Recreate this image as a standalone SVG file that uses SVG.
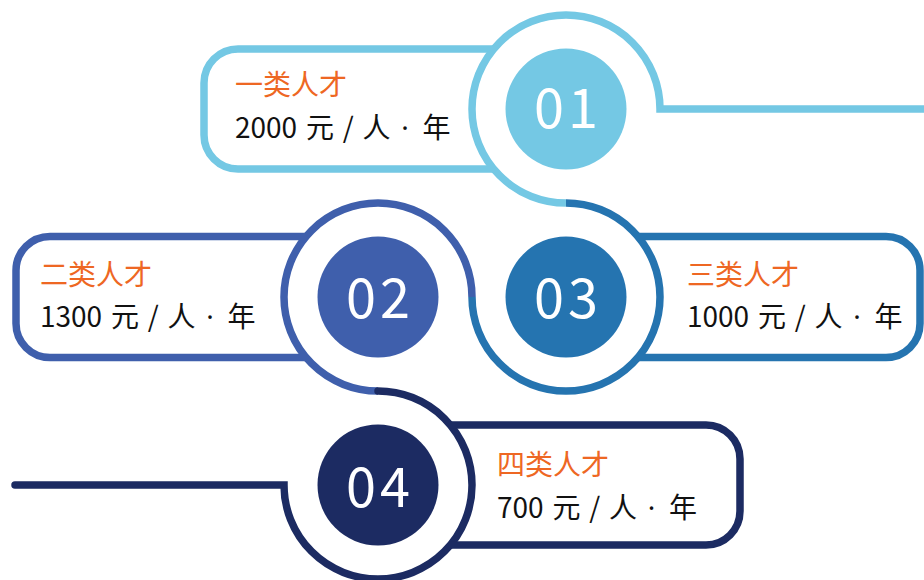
<svg xmlns="http://www.w3.org/2000/svg" width="924" height="580" viewBox="0 0 924 580">
<style>
.ln{fill:none;stroke-width:7.5;stroke-linejoin:miter}
.box{fill:none;stroke-width:7.5}
.c1{stroke:#74C8E4}.c2{stroke:#3F5FAC}.c3{stroke:#2574B0}.c4{stroke:#1C2B62}
.f1{fill:#74C8E4}.f2{fill:#3F5FAC}.f3{fill:#2574B0}.f4{fill:#1C2B62}
.num{font-family:"Noto Sans CJK SC","Noto Sans",sans-serif;font-size:54px;fill:#fff;text-anchor:middle;letter-spacing:4px}
.ttl{font-family:"Noto Sans CJK SC",sans-serif;font-size:28px;fill:#EE6723}
.val{font-family:"Noto Sans CJK SC",sans-serif;font-size:28px;fill:#111;word-spacing:2.5px}
.dot{font-family:"Noto Sans","Noto Sans CJK SC",sans-serif}
</style>
<rect width="924" height="580" fill="#fff"/>
<g id="connectors">
<path class="ln c1" d="M 924 109 H 660 A 94 94 0 1 0 566 203"/>
<path class="ln c3" d="M 566 203 A 94 94 0 1 1 472 297"/>
<path class="ln c2" d="M 472 297 A 94 94 0 1 0 378 391"/>
<path class="ln c4" d="M 378 391 A 94 94 0 1 1 284 485 H 15" stroke-linecap="round"/>
</g>
<g id="node-01">
<path class="box c1" d="M 493 49 H 238 A 34 34 0 0 0 204 83 V 135 A 34 34 0 0 0 238 169 H 493"/>
<circle class="f1" cx="566" cy="109" r="60.5"/>
<text class="num" x="568" y="128">01</text>
<text class="ttl" x="235" y="95">一类人才</text>
<text class="val" x="235" y="138">2000 元 / 人 <tspan class="dot" dx="2">·</tspan> <tspan dx="5">年</tspan></text>
</g>
<g id="node-02">
<path class="box c2" d="M 306 236.5 H 50 A 34 34 0 0 0 16 270.5 V 323.5 A 34 34 0 0 0 50 357.5 H 306"/>
<circle class="f2" cx="378" cy="297" r="60.5"/>
<text class="num" x="380" y="318">02</text>
<text class="ttl" x="40" y="285">二类人才</text>
<text class="val" x="40" y="327">1300 元 / 人 <tspan class="dot" dx="2">·</tspan> <tspan dx="5">年</tspan></text>
</g>
<g id="node-03">
<path class="box c3" d="M 638 236.5 H 886 A 34 34 0 0 1 920 270.5 V 323.5 A 34 34 0 0 1 886 357.5 H 638"/>
<circle class="f3" cx="566" cy="297" r="60.5"/>
<text class="num" x="568" y="318">03</text>
<text class="ttl" x="687" y="285">三类人才</text>
<text class="val" x="687" y="327">1000 元 / 人 <tspan class="dot" dx="2">·</tspan> <tspan dx="5">年</tspan></text>
</g>
<g id="node-04">
<path class="box c4" d="M 450 425 H 706 A 34 34 0 0 1 740 459 V 511 A 34 34 0 0 1 706 545 H 450"/>
<circle class="f4" cx="378" cy="485" r="60.5"/>
<text class="num" x="380" y="507">04</text>
<text class="ttl" x="497" y="475">四类人才</text>
<text class="val" x="497" y="518">700 元 / 人 <tspan class="dot" dx="2">·</tspan> <tspan dx="5">年</tspan></text>
</g>
</svg>
